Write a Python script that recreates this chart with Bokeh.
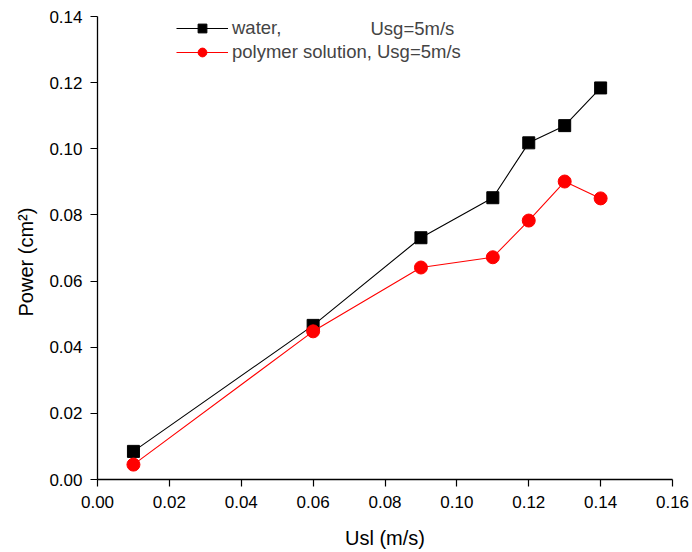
from bokeh.plotting import figure
from bokeh.models import Range1d, FixedTicker, Legend, LegendItem, Label, Title
from bokeh.embed import file_html
from bokeh.resources import INLINE

usl = [0.01, 0.06, 0.09, 0.11, 0.12, 0.13, 0.14]
water = [0.0085, 0.0466, 0.0731, 0.0852, 0.1018, 0.1070, 0.1184]
polymer = [0.0045, 0.0448, 0.0641, 0.0672, 0.0783, 0.0901, 0.0850]
x_ticks = [0.00, 0.02, 0.04, 0.06, 0.08, 0.10, 0.12, 0.14, 0.16]
y_ticks = [0.00, 0.02, 0.04, 0.06, 0.08, 0.10, 0.12, 0.14]

FONT = "Liberation Sans"

p = figure(width=692, height=552, output_backend="svg", toolbar_location=None,
           x_range=Range1d(0, 0.16), y_range=Range1d(0, 0.14),
           min_border_left=97, min_border_right=20, min_border_top=16, min_border_bottom=73)
p.outline_line_color = None
p.grid.visible = False

for ax in (p.xaxis[0], p.yaxis[0]):
    ax.axis_line_width = 1.3
    ax.major_tick_line_width = 1.2
    ax.major_tick_out = 7
    ax.major_tick_in = 0
    ax.minor_tick_line_color = None
    ax.major_label_text_font = FONT
    ax.major_label_text_font_size = "17px"
    ax.major_label_text_color = "black"
    ax.axis_label_text_font = FONT
    ax.axis_label_text_font_size = "20px"
    ax.axis_label_text_font_style = "normal"
    ax.axis_label_text_color = "black"

p.xaxis.ticker = FixedTicker(ticks=x_ticks)
p.yaxis.ticker = FixedTicker(ticks=y_ticks)
p.xaxis.major_label_overrides = {t: f"{t:.2f}" for t in x_ticks}
p.yaxis.major_label_overrides = {t: f"{t:.2f}" for t in y_ticks}
p.xaxis.axis_label = "Usl (m/s)"
p.xaxis.major_label_standoff = 9
p.yaxis.major_label_standoff = 8
p.xaxis.axis_label_standoff = 16

ytitle = Title(text="Power (cm²)", align="left", offset=163, text_font=FONT,
               text_font_size="20px", text_font_style="normal", text_color="black",
               standoff=19)
p.add_layout(ytitle, "left")

l1 = p.line(usl, water, line_color="black", line_width=1.1)
m1 = p.scatter(usl, water, marker="square", size=12, fill_color="black", line_color="black")
l2 = p.line(usl, polymer, line_color="red", line_width=1.1)
m2 = p.scatter(usl, polymer, marker="circle", size=13, fill_color="red", line_color="red")

legend = Legend(items=[LegendItem(label="water,", renderers=[l1, m1]),
                       LegendItem(label="polymer solution, Usg=5m/s", renderers=[l2, m2])],
                location=(79, 416))
legend.border_line_color = None
legend.background_fill_alpha = 0
legend.label_text_font = FONT
legend.label_text_font_size = "18.5px"
legend.glyph_width = 52
legend.glyph_height = 22
legend.label_height = 22
legend.spacing = 2
legend.label_standoff = 4
legend.padding = 0
legend.margin = 0
p.add_layout(legend)

p.add_layout(Label(x=273, y=451, x_units="screen", y_units="screen", text="Usg=5m/s",
                   text_font=FONT, text_font_size="18.5px", text_baseline="middle"))

open("out.html", "w").write(file_html(p, INLINE))
